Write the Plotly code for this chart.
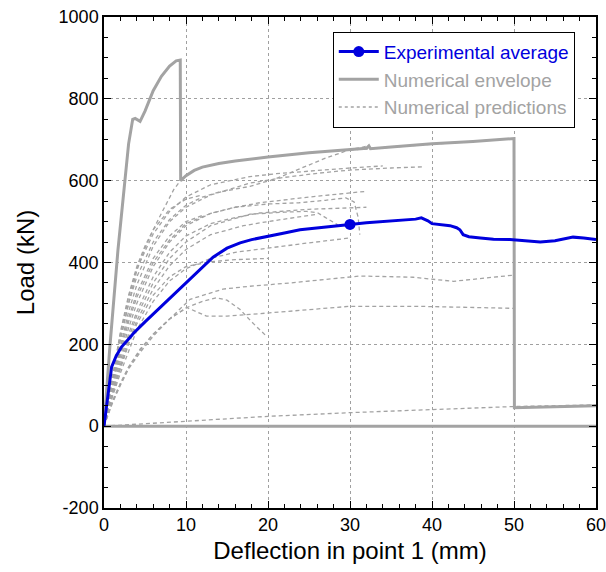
import plotly.graph_objects as go

# ---------------- data ----------------
exp_x = [0, 0.5, 0.93, 1.5, 2.15, 3, 3.6, 5, 6.4, 8, 9.7, 11.5, 13.3, 15, 16.6, 18, 19.8, 22, 23.9,
         26, 28, 30, 32, 34, 36, 38, 38.7, 39.5, 40, 41, 42.2, 43, 43.4, 43.8, 44.5, 45.9, 47.5,
         49.5, 51, 53.2, 55, 57.2, 58.5, 60]
exp_y = [0, 85, 145, 172, 194, 213, 227, 255, 282, 313, 345, 380, 413, 435, 448, 456, 464, 472, 480,
         485, 489, 493, 497, 500, 503, 506, 509, 502, 495, 492, 490, 485, 480, 468, 463, 460, 457,
         456, 453, 450, 453, 462, 460, 456]
exp_marker_x = [30]
exp_marker_y = [493]

env_x = [0, 0.7, 1.7, 2.5, 3.0, 3.5, 3.8, 4.4, 5, 6, 7, 8, 8.8, 9.3, 9.35, 10, 11, 12, 14, 16, 20,
         25, 30, 32, 32.3, 32.5, 35, 40, 45, 50, 50.05, 60]
env_y = [0, 190, 430, 600, 690, 750, 752, 745, 770, 820, 855, 880, 893, 895, 600, 612, 625, 633, 642,
         648, 658, 668, 675, 679, 685, 678, 682, 690, 696, 703, 45, 50]
env_low_x = [0, 60]
env_low_y = [0, 0]

p01_x = [0, 0.7, 1.7, 2.5, 3.0, 3.5, 3.8, 4.4, 5, 6, 7, 8, 8.8, 9.3]
p01_y = [0, 190, 430, 600, 690, 750, 752, 745, 770, 820, 855, 880, 893, 895]
p02_x = [0, 1, 2, 3, 4, 5, 6, 7, 7.8, 8.5, 9.3, 10, 11, 12, 14, 16, 20, 25, 30, 35, 40, 45, 50]
p02_y = [0, 105, 210, 300, 380, 435, 480, 520, 553, 578, 600, 612, 625, 633, 642, 648, 658, 668, 675, 682, 690, 696, 703]
p03_x = [0, 1, 2, 3, 4, 6, 8, 10, 12, 14, 17.8, 21, 24, 27, 30, 32.3]
p03_y = [0, 110, 215, 300, 365, 450, 505, 540, 560, 572, 586, 605, 630, 655, 676, 685]
p04_x = [0, 1, 2, 3, 4, 6, 8, 10, 13, 17.8, 22, 26, 30, 35, 39]
p04_y = [0, 100, 195, 280, 345, 440, 500, 535, 565, 594, 608, 618, 626, 631, 634]
p05_x = [0, 1, 2, 3, 4, 6, 8, 10, 13, 17.8, 21, 24, 27, 30, 34]
p05_y = [0, 118, 225, 315, 385, 470, 525, 560, 590, 610, 617, 622, 627, 631, 636]
p06_x = [0, 1, 2, 3, 4, 6, 8, 10, 13, 16, 19, 25, 32]
p06_y = [0, 90, 170, 240, 300, 390, 450, 490, 520, 535, 546, 560, 574]
p07_x = [0, 1, 2, 3, 4, 6, 8, 10, 13, 16, 19, 25, 32]
p07_y = [0, 85, 160, 225, 280, 365, 425, 465, 495, 510, 521, 530, 535]
p08_x = [0, 1, 2, 3, 4, 6, 8, 10, 13, 16, 20, 23.8, 27, 29.5, 30.5, 31, 31.2]
p08_y = [0, 95, 180, 255, 315, 400, 455, 495, 520, 535, 543, 546, 552, 558, 548, 510, 468]
p09_x = [0, 1, 2, 3, 4, 6, 8, 10, 13, 17.8, 22, 24.7, 26, 27, 28.5]
p09_y = [0, 80, 150, 215, 270, 350, 410, 450, 490, 518, 523, 525, 522, 510, 492]
p10_x = [0, 1, 2, 3, 4, 6, 8, 10, 13, 16, 19, 25, 30]
p10_y = [0, 70, 130, 185, 235, 305, 355, 385, 410, 425, 433, 448, 460]
p11_x = [0, 1, 2, 3, 4, 6, 8, 10, 13, 16, 20]
p11_y = [0, 75, 140, 200, 250, 320, 365, 390, 402, 407, 410]
p12_x = [0, 1, 2, 3, 4.4, 6, 8, 10.5, 14.5, 17.8, 22.7, 31.2, 37.7, 42.6, 49.9]
p12_y = [0, 55, 100, 140, 180, 220, 262, 310, 335, 342, 350, 367, 364, 354, 369]
p13_x = [0, 1, 2, 3, 4.4, 6, 8, 10.1, 12.5, 15, 17.8, 22.7, 30, 38.1, 49.9]
p13_y = [0, 60, 105, 145, 188, 225, 262, 290, 269, 269, 273, 281, 293, 293, 288]
p14_x = [0, 1, 2, 3, 4.4, 6, 8, 10.1, 12, 13.7, 15, 16.6, 18, 19.8]
p14_y = [0, 58, 103, 143, 185, 225, 262, 290, 305, 314, 308, 285, 255, 220]
p15_x = [0, 10, 20, 30, 40, 50, 60]
p15_y = [0, 12, 24, 33, 41, 48, 52]
p16_x = [0, 1, 2, 3, 4, 5, 6, 8, 10, 12]
p16_y = [0, 120, 230, 320, 390, 440, 480, 530, 555, 565]
p17_x = [0, 1, 2, 3, 4, 6, 8, 10, 12]
p17_y = [0, 100, 190, 265, 325, 410, 465, 500, 515]
p18_x = [0, 1, 2, 3, 4, 6, 8, 10, 13, 17, 20, 24, 26]
p18_y = [0, 78, 145, 205, 258, 335, 392, 432, 468, 490, 500, 512, 518]

pred_x = [p01_x, p02_x, p03_x, p04_x, p05_x, p06_x, p07_x, p08_x, p09_x,
          p10_x, p11_x, p12_x, p13_x, p14_x, p15_x, p16_x, p17_x, p18_x]
pred_y = [p01_y, p02_y, p03_y, p04_y, p05_y, p06_y, p07_y, p08_y, p09_y,
          p10_y, p11_y, p12_y, p13_y, p14_y, p15_y, p16_y, p17_y, p18_y]

x_ticks = [0, 10, 20, 30, 40, 50, 60]
y_ticks = [-200, 0, 200, 400, 600, 800, 1000]

GRAY = "#a3a3a3"
BLUE = "#0000dd"
FONT = "Arial, Liberation Sans, sans-serif"
PRED_DASH = "4px,3px"

fig = go.Figure()

# numerical predictions
for xs, ys in zip(pred_x, pred_y):
    fig.add_trace(go.Scatter(x=xs, y=ys, mode="lines", showlegend=False,
                             line=dict(color=GRAY, width=1.3, dash=PRED_DASH)))

# envelope
fig.add_trace(go.Scatter(x=env_low_x, y=env_low_y, mode="lines", showlegend=False,
                         line=dict(color=GRAY, width=3)))
fig.add_trace(go.Scatter(x=env_x, y=env_y, mode="lines", showlegend=False,
                         line=dict(color=GRAY, width=3)))

# experimental
fig.add_trace(go.Scatter(x=exp_x, y=exp_y, mode="lines", showlegend=False,
                         line=dict(color=BLUE, width=3)))
fig.add_trace(go.Scatter(x=exp_marker_x, y=exp_marker_y, mode="lines+markers",
                         name="<span style='color:#0000dd'>Experimental average</span>",
                         line=dict(color=BLUE, width=3),
                         marker=dict(color=BLUE, size=11)))
# legend entries
fig.add_trace(go.Scatter(x=[None], y=[None], mode="lines",
                         name="<span style='color:#a3a3a3'>Numerical envelope</span>",
                         line=dict(color=GRAY, width=3)))
fig.add_trace(go.Scatter(x=[None], y=[None], mode="lines",
                         name="<span style='color:#a3a3a3'>Numerical predictions</span>",
                         line=dict(color=GRAY, width=1.3, dash="dot")))

axis_common = dict(
    showline=True, linecolor="black", linewidth=1.5, mirror="ticks",
    ticks="inside", ticklen=7, tickwidth=1.2, tickcolor="black",
    showgrid=True, gridcolor="#a0a0a0", griddash="dot", gridwidth=1,
    zeroline=False, automargin=False, ticklabeloverflow="allow",
    tickfont=dict(family=FONT, size=18, color="black"),
)

fig.update_xaxes(range=[0, 60], tickvals=x_ticks, ticktext=[str(v) for v in x_ticks],
                 minor=dict(dtick=2, ticks="inside", ticklen=4, tickcolor="black", showgrid=False),
                 title=dict(text="Deflection in point 1 (mm)", font=dict(family=FONT, size=24, color="black"),
                            standoff=8),
                 **axis_common)
fig.update_yaxes(range=[-200, 1000], tickvals=y_ticks, ticktext=[str(v) for v in y_ticks],
                 minor=dict(dtick=50, ticks="inside", ticklen=4, tickcolor="black", showgrid=False),
                 title=dict(text="Load (kN)", font=dict(family=FONT, size=24, color="black"),
                            standoff=17),
                 **axis_common)

fig.update_layout(
    width=606, height=572,
    margin=dict(l=104, r=10, t=17, b=64),
    paper_bgcolor="white", plot_bgcolor="white",
    font=dict(family=FONT, size=18, color="black"),
    legend=dict(x=0.465, y=0.97, xanchor="left", yanchor="top",
                bgcolor="white", bordercolor="black", borderwidth=1,
                font=dict(family=FONT, size=19), tracegroupgap=0, itemwidth=40),
)

# remove the browser's default page margin so the figure sits at the window origin
fig.write_html("out.html", config={"displayModeBar": False},
               post_script="document.body.style.margin='0';")
